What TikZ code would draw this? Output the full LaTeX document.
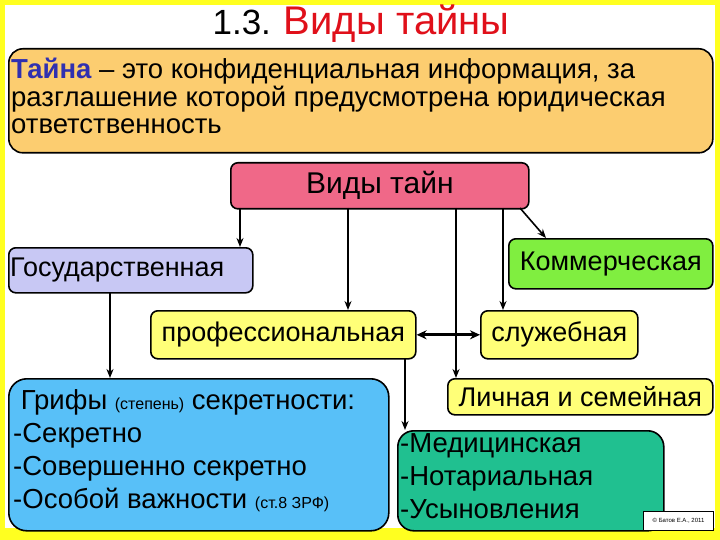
\documentclass[tikz,border=0pt]{standalone}
\usepackage{fontspec}
\setmainfont{Liberation Sans}
\usetikzlibrary{arrows.meta}
\definecolor{defc}{HTML}{FCCD70}
\definecolor{pinkc}{HTML}{F06888}
\definecolor{lavc}{HTML}{C8C8F4}
\definecolor{grnc}{HTML}{80EE40}
\definecolor{yelc}{HTML}{FFFF78}
\definecolor{bluc}{HTML}{58C0F8}
\definecolor{tealc}{HTML}{20C090}
\definecolor{titred}{HTML}{E0101A}
\definecolor{tblue}{HTML}{3030B0}
\definecolor{frame}{HTML}{FFFF20}
\tikzset{
 box/.style={draw=black,line width=1.6pt,rounded corners=7pt,anchor=north west,inner sep=3pt},
 lbl/.style={font=\fontsize{27}{30}\selectfont,inner sep=0pt},
 arr/.style={line width=1.6pt,-{Stealth[length=9pt,width=7pt]}},
}
\begin{document}
\begin{tikzpicture}[x=1pt,y=-1pt]
\fill[frame] (0,0) rectangle (720,540);
\fill[white] (5,5) rectangle (715,528);
\node[inner sep=0pt] (title) at (361,24) {\fontsize{35}{38}\selectfont 1.3. \textcolor{titred}{\fontsize{40}{42}\selectfont Виды тайны}};
\node[box,fill=defc,minimum width=704pt,minimum height=104pt,rounded corners=14pt] (def) at (8,48) {};
\node[anchor=north west,align=left,inner sep=0pt,font=\fontsize{27.5}{27.5}\selectfont] (deft) at (11,58)
 {\textcolor{tblue}{\textbf{Тайна}} – это конфиденциальная информация, за\\разглашение которой предусмотрена юридическая\\ответственность};
\node[box,fill=pinkc,minimum width=298pt,minimum height=46pt] (vid) at (230,162) {};
\node[font=\fontsize{30}{32}\selectfont,inner sep=0pt] (vidt) at (vid.center) {Виды тайн};
\node[box,fill=lavc,minimum width=244pt,minimum height=45pt] (gos) at (8,247) {};
\node[lbl,anchor=west] (gost) at (10,270) {Государственная};
\node[box,fill=grnc,minimum width=204pt,minimum height=50pt] (kom) at (508,238) {};
\node[lbl] (komt) at (kom.center) {Коммерческая};
\node[box,fill=yelc,minimum width=265pt,minimum height=48pt] (prof) at (150,310) {};
\node[lbl] (proft) at (prof.center) {профессиональная};
\node[box,fill=yelc,minimum width=157pt,minimum height=48pt] (sl) at (480,310) {};
\node[lbl] (slt) at (sl.center) {служебная};
\node[box,fill=bluc,minimum width=380pt,minimum height=152pt,rounded corners=18pt] (gr) at (8,378) {};
\node[anchor=north west,align=left,inner sep=0pt,font=\fontsize{27.5}{33}\selectfont] (grt) at (13,389)
 {\ Грифы {\fontsize{16}{18}\selectfont (степень)} секретности:\\-Секретно\\-Совершенно секретно\\-Особой важности {\fontsize{16}{18}\selectfont (ст.8 ЗРФ)}};
\node[box,fill=yelc,minimum width=265pt,minimum height=36pt] (lich) at (447,378) {};
\node[lbl] (licht) at (lich.center) {Личная и семейная};
\node[box,fill=tealc,minimum width=266pt,minimum height=100pt,rounded corners=16pt] (med) at (397,430) {};
\node[anchor=north west,align=left,inner sep=0pt,font=\fontsize{27.5}{33}\selectfont] (medt) at (400,433)
 {-Медицинская\\-Нотариальная\\-Усыновления};
\node[draw,line width=1pt,fill=white,anchor=north west,minimum width=70pt,minimum height=19pt,inner sep=0pt,font=\fontsize{6}{7}\selectfont] (cr) at (643,511) {© Батов Е.А., 2011};
\coordinate (v1) at (240,208); \coordinate (v2) at (348,208); \coordinate (v3) at (456,208);
\coordinate (v4) at (503,208); \coordinate (v5) at (520,208);
\draw[arr] (v1) -- (v1 |- gos.north);
\draw[arr] (v2) -- (v2 |- prof.north);
\draw[arr] (v3) -- (v3 |- lich.north);
\draw[arr] (v4) -- (v4 |- sl.north);
\draw[arr] (v5) -- (546,238);
\coordinate (g1) at (110,292); \draw[arr] (g1) -- (g1 |- gr.north);
\coordinate (p1) at (405,358); \draw[arr] (p1) -- (p1 |- med.north);
\draw[line width=3pt,{Stealth[length=10pt,width=9pt]}-{Stealth[length=10pt,width=9pt]}] (prof.east) -- (sl.west);
\end{tikzpicture}
\end{document}
